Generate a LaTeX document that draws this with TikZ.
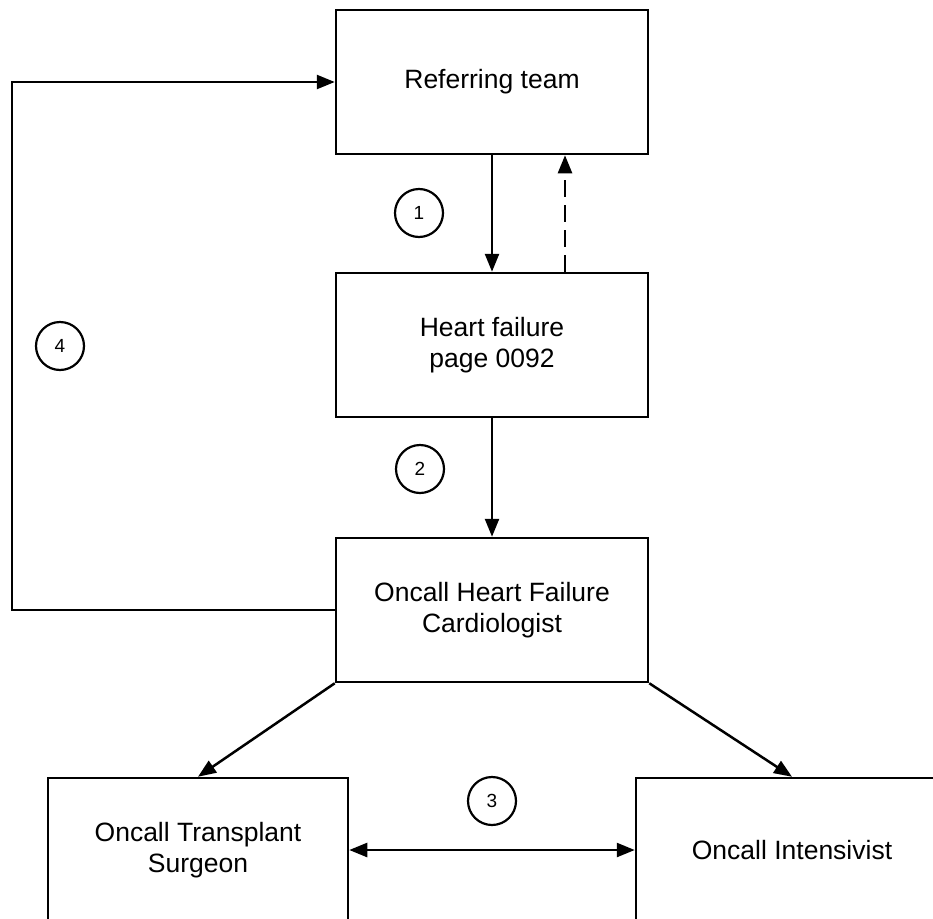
\documentclass[tikz,border=0pt]{standalone}
\usepackage{fontspec}
\setmainfont{Liberation Sans}
\usetikzlibrary{arrows.meta}
\begin{document}
\begin{tikzpicture}[x=1pt,y=-1pt,
  box/.style={draw,line width=2.5pt,rectangle,inner sep=0pt,minimum width=312pt,minimum height=144pt,align=center,font=\fontsize{26.5}{31.5}\selectfont},
  num/.style={draw,circle,line width=2.2pt,minimum size=48pt,inner sep=0pt,font=\fontsize{19}{20}\selectfont},
  conn/.style={line width=2.5pt,-{Triangle[length=18pt,width=14pt]}},
  dconn/.style={line width=2.5pt,{Triangle[length=18pt,width=14pt]}-{Triangle[length=18pt,width=14pt]}}
]
\clip (0,0) rectangle (933,918);
\fill[white] (0,0) rectangle (933,918);
\node[box] (A) at (492,82) {Referring team};
\node[box] (B) at (492,345) {Heart failure\\page 0092};
\node[box] (C) at (492,610) {Oncall Heart Failure\\Cardiologist};
\node[box,minimum width=300pt] (D) at (198,850) {Oncall Transplant\\Surgeon};
\node[box] (E) at (792,850) {Oncall Intensivist};
\node[num] (n1) at (419,213) {1};
\node[num] (n2) at (420,469) {2};
\node[num] (n3) at (492,801) {3};
\node[num] (n4) at (60,346) {4};
\coordinate (L) at (12,345);
\draw[conn] (A.south) -- (B.north);
\draw[conn,dash pattern=on 17pt off 8pt] ([xshift=73pt]B.north) -- ([xshift=73pt]A.south);
\draw[conn] (B.south) -- (C.north);
\draw[conn] (C.west) -| (L) |- (A.west);
\draw[conn] (C.south west) -- (D.north);
\draw[conn] (C.south east) -- (E.north);
\draw[dconn] (D.east) -- (E.west);
\end{tikzpicture}
\end{document}
